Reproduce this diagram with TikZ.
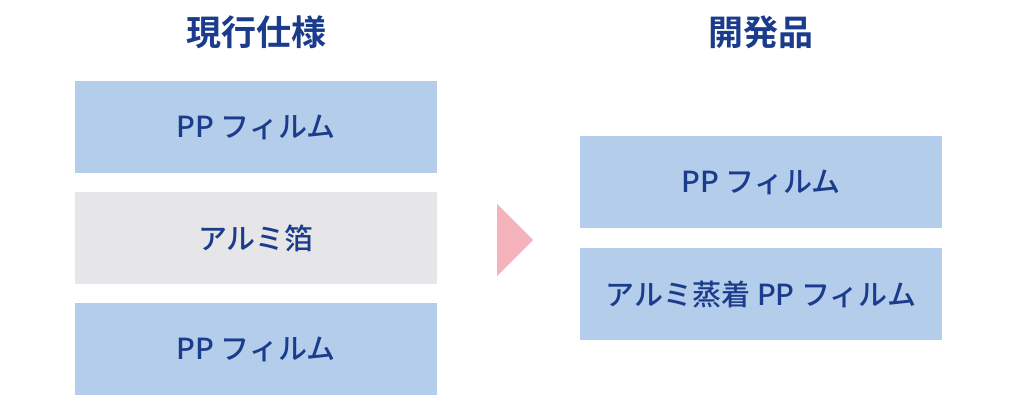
\documentclass[tikz,border=0pt]{standalone}
\usepackage{fontspec}
\usepackage{xcolor}
\usepackage{tikz}
\newfontfamily\jpfont{Noto Sans CJK JP Medium}
\newfontfamily\jpbold{Noto Sans CJK JP Bold}
\definecolor{txtblue}{HTML}{1B3C8C}
\definecolor{filmblue}{HTML}{B4CDEB}
\definecolor{foilgray}{HTML}{E6E6E8}
\definecolor{arrowpink}{HTML}{F4B3BC}

\begin{document}
\begin{tikzpicture}[x=1pt, y=-1pt,
    layer/.style={minimum width=362pt, minimum height=92pt, inner sep=0pt,
        text=txtblue, font=\jpfont\fontsize{29}{32}\selectfont},
    title/.style={text=txtblue, font=\jpbold\fontsize{35}{40}\selectfont}]
    \useasboundingbox (0,0) rectangle (1018,410);

    % current spec
    \node[title] (cur) at (256,32) {現行仕様};
    \node[layer, fill=filmblue] (curtop) at (256,127) {PP フィルム};
    \node[layer, fill=foilgray] (curmid) at (256,238) {アルミ箔};
    \node[layer, fill=filmblue] (curbot) at (256,349) {PP フィルム};

    % new product
    \node[title] (dev) at (761,32) {開発品};
    \node[layer, fill=filmblue] (devtop) at (761,182) {PP フィルム};
    \node[layer, fill=filmblue] (devbot) at (761,294) {アルミ蒸着 PP フィルム};

    \fill[arrowpink] (497,204) -- (533,240) -- (497,276) -- cycle;
\end{tikzpicture}
\end{document}
